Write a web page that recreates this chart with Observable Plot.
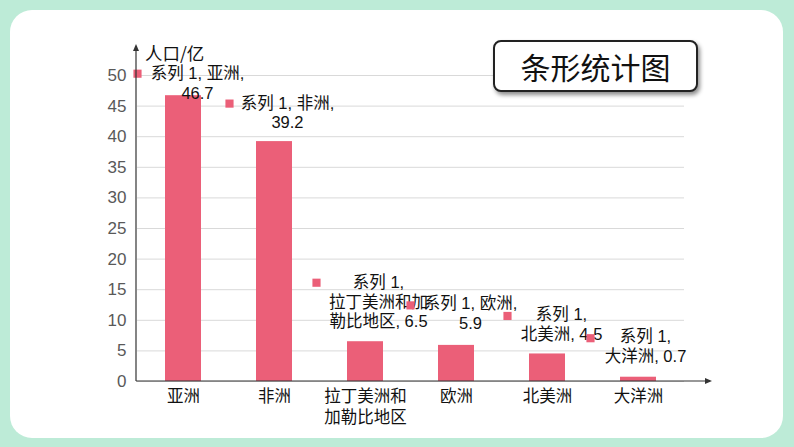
<!DOCTYPE html>
<html>
<head>
<meta charset="utf-8">
<script src="https://cdn.jsdelivr.net/npm/d3@7"></script>
<script src="https://cdn.jsdelivr.net/npm/@observablehq/plot@0.6"></script>
<style>
  html, body { margin: 0; padding: 0; }
  body { width: 794px; height: 447px; background: #bdebd7; position: relative; overflow: hidden;
         font-family: "Liberation Sans", "Noto Sans CJK SC", sans-serif; }
  #panel { position: absolute; left: 10px; top: 10px; width: 773px; height: 428px; background: #fff; border-radius: 22px; }
  #chart { position: absolute; left: 0; top: 0; }
  #ylabel { position: absolute; left: 145px; top: 40px; font-size: 17.5px; color: #111; font-family: "Noto Sans CJK SC", sans-serif; }
  #titlebox { position: absolute; left: 493px; top: 40px; width: 201px; height: 48px; border: 2px solid #222; border-radius: 8px;
              box-shadow: 2px 3px 4px rgba(0,0,0,0.45); background: #fff; display: flex; align-items: center; justify-content: center;
              font-size: 30px; color: #111; font-family: "Noto Sans CJK SC", sans-serif; }
</style>
</head>
<body>
<div id="panel"></div>
<div id="chart"></div>
<div id="ylabel">人口/亿</div>
<div id="titlebox">条形统计图</div>
<script>
const categories = ["亚洲", "非洲", "拉丁美洲和加勒比地区", "欧洲", "北美洲", "大洋洲"];
const values = [46.7, 39.2, 6.5, 5.9, 4.5, 0.7];
const seriesName = "系列 1";
const yTicks = [0, 5, 10, 15, 20, 25, 30, 35, 40, 45, 50];
const labelTexts = [
  "系列 1, 亚洲,\n46.7",
  "系列 1, 非洲,\n39.2",
  "系列 1,\n拉丁美洲和加\n勒比地区, 6.5",
  "系列 1, 欧洲,\n5.9",
  "系列 1,\n北美洲, 4.5",
  "系列 1,\n大洋洲, 0.7"
];
// label layout offsets (pixels, relative to bar top-centre) – styling only
const labelDx = [14, 13, 13, 14, 14, 7];
const labelDy = [-31, -47, -68, -50, -48, -49];
const keyDx = [-46, -45, -49, -46, -40, -48];
const keyDy = [-22, -38, -59, -40, -38, -39];

const barColor = "#eb5f78";
const data = categories.map((c, i) => ({
  category: c, value: values[i], label: labelTexts[i],
  ldx: labelDx[i], ldy: labelDy[i], kdx: keyDx[i], kdy: keyDy[i]
}));

const font = "'Liberation Sans', 'Noto Sans CJK SC', sans-serif";

const marks = [
  Plot.gridY(yTicks, { stroke: "#d9d9d9", strokeOpacity: 1, strokeWidth: 1 }),
  Plot.barY(data, { x: "category", y: "value", fill: barColor }),
  Plot.axisY({ ticks: yTicks, tickSize: 0, tickPadding: 11, fontSize: 17, fill: "#595959", label: null }),
  Plot.axisX({ tickSize: 0, tickPadding: 6, fontSize: 16.5, fill: "#111", label: null, lineHeight: 1.25,
               tickFormat: d => d.length > 5 ? d.slice(0, 5) + "\n" + d.slice(5) : d, fontFamily: "'Noto Sans CJK SC', sans-serif" })
];
// per-label text and legend key squares
data.forEach(d => {
  marks.push(Plot.dot([d], { x: "category", y: "value", symbol: "square", r: 4.6, fill: barColor, stroke: null, dx: d.kdx, dy: d.kdy }));
  marks.push(Plot.text([d], { x: "category", y: "value", text: "label", dx: d.ldx, dy: d.ldy, textAnchor: "middle", lineAnchor: "top",
    lineHeight: 1.2, fontSize: 16.5, fill: "#111", fontFamily: font }));
});

const chart = Plot.plot({
  width: 794, height: 447,
  marginLeft: 137, marginRight: 110, marginTop: 75, marginBottom: 66,
  style: { background: "transparent", fontFamily: font },
  x: { domain: categories, paddingInner: 0.6, paddingOuter: 0.3, label: null },
  y: { domain: [0, 50], label: null },
  marks
});
document.getElementById("chart").appendChild(chart);

// axis lines with arrowheads, derived from the plot's scales
const sx = chart.scale("x"), sy = chart.scale("y");
const x0 = sx.range[0], x1 = sx.range[1];
const y0 = sy.apply(0), yTop = sy.range[1];
const svg = d3.select(chart);
const g = svg.append("g").attr("stroke", "#333").attr("fill", "#333");
g.append("line").attr("x1", x0 - 1).attr("x2", x1 + 26).attr("y1", y0).attr("y2", y0).attr("stroke-width", 1.2);
g.append("path").attr("d", `M${x1 + 28},${y0} l-7,-3 l0,6 z`).attr("stroke", "none");
g.append("line").attr("x1", x0 - 1).attr("x2", x0 - 1).attr("y1", y0).attr("y2", yTop - 28).attr("stroke-width", 1.2);
g.append("path").attr("d", `M${x0 - 1},${yTop - 31} l-3,7 l6,0 z`).attr("stroke", "none");
</script>
</body>
</html>
